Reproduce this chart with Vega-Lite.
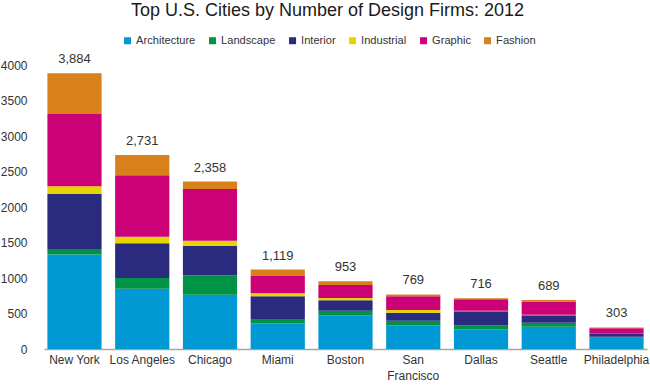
{
  "$schema": "https://vega.github.io/schema/vega-lite/v6.json",
  "width": 603,
  "height": 284,
  "autosize": {"type": "none"},
  "padding": {"left": 44, "top": 65, "right": 3, "bottom": 39},
  "background": "white",
  "title": {
    "text": "Top U.S. Cities by Number of Design Firms: 2012",
    "font": "Liberation Sans",
    "fontSize": 18,
    "fontWeight": "normal",
    "color": "#1a1a1a",
    "anchor": "middle",
    "frame": "group",
    "offset": 15,
    "dx": -18
  },
  "data": {
    "values": [
      {"city": "New York", "Architecture": 1330, "Landscape": 78, "Interior": 775, "Industrial": 108, "Graphic": 1019, "Fashion": 574},
      {"city": "Los Angeles", "Architecture": 850, "Landscape": 150, "Interior": 488, "Industrial": 94, "Graphic": 864, "Fashion": 285},
      {"city": "Chicago", "Architecture": 765, "Landscape": 273, "Interior": 413, "Industrial": 75, "Graphic": 728, "Fashion": 104},
      {"city": "Miami", "Architecture": 362, "Landscape": 61, "Interior": 319, "Industrial": 42, "Graphic": 244, "Fashion": 91},
      {"city": "Boston", "Architecture": 474, "Landscape": 66, "Interior": 145, "Industrial": 33, "Graphic": 183, "Fashion": 52},
      {"city": "San Francisco", "Architecture": 333, "Landscape": 66, "Interior": 113, "Industrial": 37, "Graphic": 193, "Fashion": 27},
      {"city": "Dallas", "Architecture": 277, "Landscape": 56, "Interior": 198, "Industrial": 8, "Graphic": 160, "Fashion": 17},
      {"city": "Seattle", "Architecture": 315, "Landscape": 56, "Interior": 103, "Industrial": 8, "Graphic": 188, "Fashion": 19},
      {"city": "Philadelphia", "Architecture": 160, "Landscape": 14, "Interior": 37, "Industrial": 5, "Graphic": 75, "Fashion": 12}
    ]
  },
  "transform": [
    {"fold": ["Architecture", "Landscape", "Interior", "Industrial", "Graphic", "Fashion"], "as": ["type", "n"]},
    {"calculate": "indexof(['Architecture','Landscape','Interior','Industrial','Graphic','Fashion'], datum.type)", "as": "ord"}
  ],
  "layer": [
    {
      "mark": {"type": "bar"},
      "encoding": {
        "x": {
          "field": "city",
          "type": "nominal",
          "sort": null,
          "scale": {"paddingInner": 0.2, "paddingOuter": 0.05},
          "axis": {
            "title": null,
            "labelAngle": 0,
            "ticks": false,
            "domainColor": "#a6a6a6",
            "domainWidth": 1.5,
            "labelFont": "Liberation Sans",
            "labelFontSize": 12,
            "labelColor": "#333333",
            "labelPadding": 5,
            "labelLineHeight": 16,
            "labelExpr": "datum.value == 'San Francisco' ? ['San', 'Francisco'] : datum.value"
          }
        },
        "y": {
          "field": "n",
          "type": "quantitative",
          "stack": "zero",
          "scale": {"domain": [0, 4000], "nice": false},
          "axis": {
            "title": null,
            "values": [0, 500, 1000, 1500, 2000, 2500, 3000, 3500, 4000],
            "format": "d",
            "grid": false,
            "domain": false,
            "ticks": false,
            "labelOverlap": false,
            "labelFont": "Liberation Sans",
            "labelFontSize": 12,
            "labelColor": "#333333",
            "labelPadding": 17
          }
        },
        "color": {
          "field": "type",
          "type": "nominal",
          "sort": ["Architecture", "Landscape", "Interior", "Industrial", "Graphic", "Fashion"],
          "scale": {
            "domain": ["Architecture", "Landscape", "Interior", "Industrial", "Graphic", "Fashion"],
            "range": ["#0099d4", "#009245", "#2a2a7f", "#e6d400", "#cc0077", "#d8811c"]
          },
          "legend": {
            "title": null,
            "orient": "none",
            "direction": "horizontal",
            "legendX": 78,
            "legendY": -30,
            "symbolType": "square",
            "symbolSize": 49,
            "symbolStrokeWidth": 0,
            "labelFont": "Liberation Sans",
            "labelFontSize": 11.1,
            "labelColor": "#333333",
            "labelOffset": 3,
            "columnPadding": 11
          }
        },
        "order": {"field": "ord", "type": "quantitative"}
      }
    },
    {
      "transform": [
        {"aggregate": [{"op": "sum", "field": "n", "as": "total"}], "groupby": ["city"]}
      ],
      "mark": {"type": "text", "dy": -10, "baseline": "alphabetic", "font": "Liberation Sans", "fontSize": 13, "color": "#333333"},
      "encoding": {
        "x": {"field": "city", "type": "nominal", "sort": null},
        "y": {
          "field": "total",
          "type": "quantitative",
          "axis": {
            "title": null,
            "values": [0, 500, 1000, 1500, 2000, 2500, 3000, 3500, 4000],
            "format": "d",
            "grid": false,
            "domain": false,
            "ticks": false,
            "labelOverlap": false,
            "labelFont": "Liberation Sans",
            "labelFontSize": 12,
            "labelColor": "#333333",
            "labelPadding": 17
          }
        },
        "text": {"field": "total", "type": "quantitative", "format": ","}
      }
    }
  ],
  "config": {"view": {"stroke": null}}
}
